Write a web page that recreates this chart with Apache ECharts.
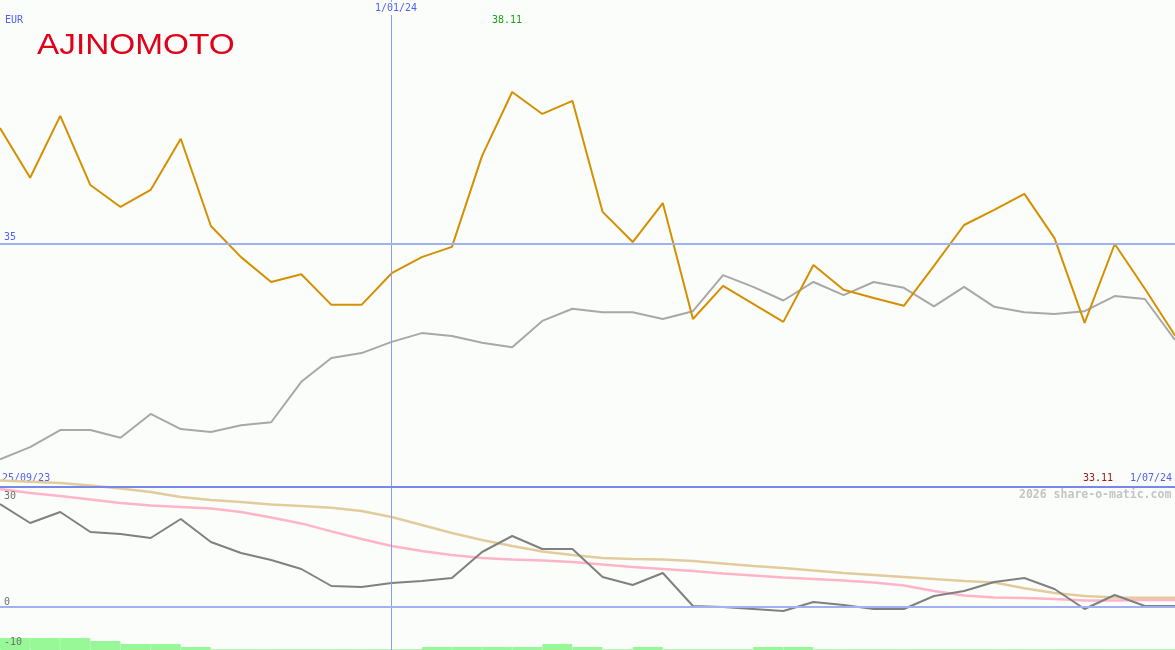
<!DOCTYPE html>
<html>
<head>
<meta charset="utf-8">
<script src="https://cdn.jsdelivr.net/npm/echarts@6/dist/echarts.min.js"></script>
<style>
html,body{margin:0;padding:0;background:#fbfdfb;}
#chart{width:1175px;height:650px;}
</style>
</head>
<body>
<div id="chart"></div>
<script>
// ---- data ----
const dates = ['2/10/23','9/10/23','16/10/23','23/10/23','30/10/23','6/11/23','13/11/23','20/11/23','27/11/23','4/12/23','11/12/23','18/12/23','25/12/23','1/01/24','8/01/24','15/01/24','22/01/24','29/01/24','5/02/24','12/02/24','19/02/24','26/02/24','4/03/24','11/03/24','18/03/24','25/03/24','1/04/24','8/04/24','15/04/24','22/04/24','29/04/24','6/05/24','13/05/24','20/05/24','27/05/24','3/06/24','10/06/24','17/06/24','24/06/24','1/07/24'];
const price = [37.37,36.35,37.62,36.20,35.75,36.10,37.15,35.36,34.72,34.21,34.37,33.74,33.74,34.39,34.72,34.93,36.80,38.11,37.66,37.93,35.65,35.03,35.83,33.45,34.13,33.76,33.39,34.56,34.05,33.88,33.72,34.54,35.38,35.69,36.02,35.11,33.37,34.99,34.07,33.11];
const priceAvg = [30.57,30.82,31.17,31.17,31.01,31.50,31.19,31.13,31.27,31.33,32.16,32.65,32.75,32.98,33.16,33.10,32.96,32.87,33.41,33.66,33.59,33.59,33.45,33.61,34.35,34.11,33.83,34.21,33.94,34.21,34.09,33.71,34.11,33.70,33.59,33.55,33.61,33.92,33.86,33.02];
const oscillator = [25.75,21.0,23.75,18.75,18.25,17.25,22.0,16.25,13.5,11.75,9.5,5.25,5.0,6.0,6.5,7.25,13.75,17.75,14.5,14.5,7.5,5.5,8.5,0.25,0,-0.5,-1.0,1.25,0.5,-0.5,-0.5,2.75,4.0,6.25,7.25,4.5,-0.5,3.0,0.25,0.25];
const slowTan = [31.6,31.3,31.0,30.4,29.6,28.75,27.5,26.75,26.25,25.6,25.25,24.8,24.0,22.5,20.5,18.5,16.75,15.25,13.9,13.0,12.25,12.0,11.9,11.5,10.9,10.25,9.75,9.1,8.5,8.0,7.5,7.0,6.5,6.1,4.7,3.5,2.75,2.4,2.3,2.3];
const slowPink = [29.5,28.5,27.75,26.9,26.0,25.4,25.0,24.6,23.75,22.4,20.9,18.9,17.0,15.25,14.0,13.0,12.25,11.9,11.6,11.25,10.6,10.0,9.5,9.0,8.4,7.9,7.4,7.0,6.6,6.1,5.4,4.0,2.9,2.4,2.25,2.0,1.6,1.6,1.75,1.75];
const volumeSteps = [4,4,4,3,2,2,1,0,0,0,0,0,0,0,1,1,1,1,2,1,0,1,0,0,0,1,1,0,0,0,0,0,0,0,0,0,0,0,0];
const topTicks = [35];
const bottomTicks = [30, 0, -10];
const markerDate = '1/01/24';
const startLabel = '25/09/23';
const endLabel = '1/07/24';
const currency = 'EUR';
const title = 'AJINOMOTO';
const watermark = '2026 share-o-matic.com';

// ---- chart ----
const mono = '"DejaVu Sans Mono", monospace';
const blueText = '#5060f0';
const lineBlue = '#a0b0f0';
const vLine = '#8a9cf6';
const intervals = dates.slice(0, dates.length - 1);
const maxPrice = Math.max(...price);
const lastPrice = price[price.length - 1];

const chart = echarts.init(document.getElementById('chart'));

const option = {
  backgroundColor: '#fbfdfb',
  animation: false,
  grid: [
    {left: 0, right: 0, top: 0, height: 487},
    {left: 0, right: 0, top: 487, bottom: 0}
  ],
  xAxis: [
    {type: 'category', gridIndex: 0, data: dates, boundaryGap: false, show: false},
    {type: 'category', gridIndex: 1, data: dates, boundaryGap: false, show: false},
    {type: 'category', gridIndex: 1, data: intervals, boundaryGap: true, show: false}
  ],
  yAxis: [
    {type: 'value', gridIndex: 0, min: 30, max: 40, show: false},
    {type: 'value', gridIndex: 1, min: -10.75, max: 30, show: false},
    {type: 'value', gridIndex: 1, min: 0, max: 163 / 3, show: false}
  ],
  series: [
    {
      type: 'bar', xAxisIndex: 2, yAxisIndex: 2, data: volumeSteps,
      barWidth: '100%', barCategoryGap: 0,
      itemStyle: {color: '#98f898', borderColor: '#98f898', borderWidth: 1}, z: 1, silent: true
    },
    {
      type: 'line', xAxisIndex: 1, yAxisIndex: 1, data: slowPink, showSymbol: false,
      lineStyle: {color: '#ffb4c8', width: 2.5}, z: 2, clip: false, silent: true
    },
    {
      type: 'line', xAxisIndex: 1, yAxisIndex: 1, data: slowTan, showSymbol: false,
      lineStyle: {color: '#e2cc9c', width: 2.5}, z: 2, clip: false, silent: true
    },
    {
      type: 'line', xAxisIndex: 1, yAxisIndex: 1, data: oscillator, showSymbol: false,
      lineStyle: {color: '#808080', width: 2}, z: 3, silent: true,
      markLine: {
        silent: true, symbol: 'none', animation: false,
        data: [
          {xAxis: markerDate, lineStyle: {color: vLine, width: 1, type: 'solid'}, label: {show: false}}
        ].concat(bottomTicks.map(v => ({
          yAxis: v,
          lineStyle: {color: v === 0 ? lineBlue : 'rgba(0,0,0,0)', width: v === 0 ? 2 : 1, type: 'solid'},
          label: {
            show: true, formatter: String(v),
            position: v === 30 ? 'insideStartBottom' : 'insideStartTop',
            distance: v === 30 ? [4, 4] : [4, 0],
            color: '#707070', fontFamily: mono, fontSize: 10
          }
        })))
      }
    },
    {
      type: 'line', xAxisIndex: 0, yAxisIndex: 0, data: priceAvg, showSymbol: false,
      lineStyle: {color: '#a8a8a8', width: 2}, z: 3, silent: true
    },
    {
      type: 'line', xAxisIndex: 0, yAxisIndex: 0, data: price, showSymbol: false,
      lineStyle: {color: '#d49000', width: 2}, z: 4, silent: true,
      markLine: {
        silent: true, symbol: 'none', animation: false,
        data: [
          {xAxis: markerDate, lineStyle: {color: vLine, width: 1, type: 'solid'}, label: {show: false}},
          {yAxis: 30, lineStyle: {color: '#7888e8', width: 2, type: 'solid'}, label: {show: false}}
        ].concat(topTicks.map(v => ({
          yAxis: v,
          lineStyle: {color: lineBlue, width: 2, type: 'solid'},
          label: {
            show: true, formatter: String(v), position: 'insideStartTop',
            distance: [4, 1], color: blueText, fontFamily: mono, fontSize: 10
          }
        })))
      }
    }
  ],
  graphic: [
    {type: 'text', left: 5, top: 15, z: 10, style: {text: currency, fill: blueText, font: '10px ' + mono}},
    {type: 'text', left: 374, top: 2, z: 10, style: {text: markerDate, fill: blueText, font: '10px ' + mono, backgroundColor: '#fbfdfb', padding: [1, 1, 2, 1]}},
    {type: 'text', left: 492, top: 15, z: 10, style: {text: maxPrice.toFixed(2), fill: '#18a018', font: '10px ' + mono}},
    {type: 'text', left: 2, top: 473, z: 0, style: {text: startLabel, fill: blueText, font: '10px ' + mono}},
    {type: 'text', left: 1083, top: 473, z: 10, style: {text: lastPrice.toFixed(2), fill: '#a01818', font: '10px ' + mono}},
    {type: 'text', left: 1130, top: 473, z: 10, style: {text: endLabel, fill: blueText, font: '10px ' + mono}},
    {type: 'text', left: 1019, top: 489, z: 10, style: {text: watermark, fill: '#c4c4c4', font: 'bold 11.5px ' + mono}},
    {type: 'text', left: 37, top: 31, z: 10, scaleX: 1.15, style: {text: title, fill: '#e0001a', font: '29px "Liberation Sans", sans-serif'}}
  ]
};

chart.setOption(option);
</script>
</body>
</html>
